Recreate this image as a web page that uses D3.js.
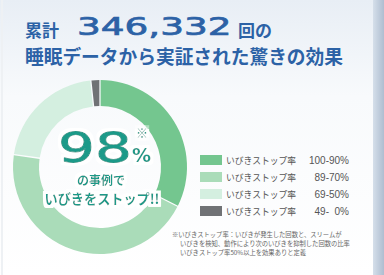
<!DOCTYPE html>
<html>
<head>
<meta charset="utf-8">
<script src="https://d3js.org/d3.v7.min.js"></script>
<style>
  body { margin: 0; background: #fff; }
  svg { display: block; }
</style>
</head>
<body>
<svg id="chart" width="384" height="275"></svg>
<script>
// values
var labels = ["いびきストップ率", "いびきストップ率", "いびきストップ率", "いびきストップ率"];
var ranges = ["100-90%", "89-70%", "69-50%", "49-  0%"];
var values = [32.5, 45, 21, 1.5];
var colors = ["#74c68f", "#aadcb9", "#d4efe0", "#707275"];
var noteLines = [
  "※いびきストップ率：いびきが発生した回数と、スリームが",
  "いびきを検知、動作により次のいびきを抑制した回数の比率",
  "いびきストップ率50%以上を効果ありと定義"
];

var svg = d3.select("#chart");
var jp = "'Noto Sans CJK JP', 'Noto Sans', sans-serif";

// background
var defs = svg.append("defs");
var bg = defs.append("linearGradient").attr("id", "bg").attr("x1", 0).attr("y1", 0).attr("x2", 0).attr("y2", 1);
bg.append("stop").attr("offset", "0").attr("stop-color", "#e8eef5");
bg.append("stop").attr("offset", "0.35").attr("stop-color", "#f8fafc");
bg.append("stop").attr("offset", "1").attr("stop-color", "#ffffff");
var side = defs.append("linearGradient").attr("id", "side").attr("x1", 0).attr("y1", 0).attr("x2", 1).attr("y2", 0);
side.append("stop").attr("offset", "0").attr("stop-color", "#d5dfea");
side.append("stop").attr("offset", "1").attr("stop-color", "#aebdd0");

// white halo round the centre text
var halo = defs.append("filter").attr("id", "halo").attr("x", "-20%").attr("y", "-40%").attr("width", "140%").attr("height", "180%");
halo.append("feMorphology").attr("in", "SourceAlpha").attr("operator", "dilate").attr("radius", 2.5).attr("result", "fat");
halo.append("feGaussianBlur").attr("in", "fat").attr("stdDeviation", 0.6).attr("result", "soft");
halo.append("feFlood").attr("flood-color", "#fff").attr("result", "white");
halo.append("feComposite").attr("in", "white").attr("in2", "soft").attr("operator", "in").attr("result", "glow");
var hm = halo.append("feMerge");
hm.append("feMergeNode").attr("in", "glow");
hm.append("feMergeNode").attr("in", "SourceGraphic");

svg.append("rect").attr("width", 384).attr("height", 275).attr("fill", "url(#bg)");
svg.append("rect").attr("x", 373).attr("width", 11).attr("height", 275).attr("fill", "url(#side)");
svg.append("rect").attr("x", 1).attr("width", 2).attr("height", 275).attr("fill", "#eef1f4");

// title
var blue = "#2c62a6";
var t1 = svg.append("g").attr("fill", blue).attr("font-family", jp).attr("font-weight", "bold");
t1.append("text").attr("x", 25).attr("y", 37).attr("font-size", 17).text("累計");
// wide numerals: draw at natural width and stretch sideways
t1.append("text").attr("transform", "translate(77,35) scale(1.5,1)").attr("font-size", 25)
  .attr("font-family", "'DejaVu Sans', sans-serif").attr("font-weight", "normal")
  .attr("stroke", blue).attr("stroke-width", 0.7)
  .attr("textLength", 103).attr("lengthAdjust", "spacingAndGlyphs").text("346,332");
t1.append("text").attr("x", 238).attr("y", 37).attr("font-size", 17).text("回の");
t1.append("text").attr("x", 25).attr("y", 64).attr("font-size", 19)
  .attr("textLength", 318).attr("lengthAdjust", "spacingAndGlyphs")
  .text("睡眠データから実証された驚きの効果");

// donut
var cx = 100, cy = 167, outer = 87, inner = 61;
var pie = d3.pie().sort(null).startAngle(0).endAngle(2 * Math.PI).padAngle(0.012);
var arc = d3.arc().innerRadius(inner).outerRadius(outer);
svg.append("g").attr("transform", "translate(" + cx + "," + cy + ")")
  .selectAll("path").data(pie(values)).enter().append("path")
  .attr("d", arc).attr("fill", function(d, i) { return colors[i]; });

// center text
var teal = "#1d9a89";
var c = svg.append("g").attr("fill", teal).attr("filter", "url(#halo)");
c.append("text").attr("transform", "translate(58,162) scale(1.42,1)").attr("font-size", 40)
  .attr("font-family", "'DejaVu Sans', sans-serif")
  .attr("stroke", teal).attr("stroke-width", 0.8).attr("stroke-linejoin", "round")
  .attr("textLength", 52).attr("lengthAdjust", "spacingAndGlyphs").text("98");
c.append("text").attr("x", 132).attr("y", 162).attr("font-size", 19).attr("font-weight", "bold")
  .attr("font-family", "'DejaVu Sans', sans-serif").text("%");
c.append("text").attr("x", 142).attr("y", 138).attr("font-size", 12).attr("font-weight", "bold")
  .attr("text-anchor", "middle").attr("font-family", jp).text("※");
c.append("text").attr("x", 101).attr("y", 184.5).attr("font-size", 12).attr("font-weight", "bold")
  .attr("text-anchor", "middle").attr("font-family", jp).text("の事例で");
c.append("text").attr("x", 102).attr("y", 204).attr("font-size", 13.5).attr("font-weight", "bold")
  .attr("text-anchor", "middle").attr("font-family", jp)
  .attr("textLength", 115).attr("lengthAdjust", "spacingAndGlyphs").text("いびきをストップ!!");

// legend
var y = d3.scaleBand().domain(d3.range(values.length)).range([152, 220]);
var lg = svg.append("g").selectAll("g").data(values).enter().append("g")
  .attr("transform", function(d, i) { return "translate(0," + y(i) + ")"; });
lg.append("rect").attr("x", 200).attr("y", 3).attr("width", 22).attr("height", 10)
  .attr("fill", function(d, i) { return colors[i]; });
lg.append("text").attr("x", 226).attr("y", 12).attr("font-size", 9.5).attr("fill", "#555")
  .attr("font-family", jp).attr("textLength", 70).attr("lengthAdjust", "spacingAndGlyphs")
  .text(function(d, i) { return labels[i]; });
lg.append("text").attr("x", 349).attr("y", 12).attr("font-size", 10).attr("fill", "#555")
  .attr("text-anchor", "end").attr("xml:space", "preserve")
  .attr("font-family", "'Liberation Sans', sans-serif")
  .text(function(d, i) { return ranges[i]; });

// note
svg.append("g").selectAll("text").data(noteLines).enter().append("text")
  .attr("x", function(d, i) { return i === 0 ? 172 : 180; })
  .attr("y", function(d, i) { return 237 + i * 9; })
  .attr("font-size", 6.3).attr("fill", "#666").attr("font-family", jp)
  .text(function(d) { return d; });
</script>
</body>
</html>
